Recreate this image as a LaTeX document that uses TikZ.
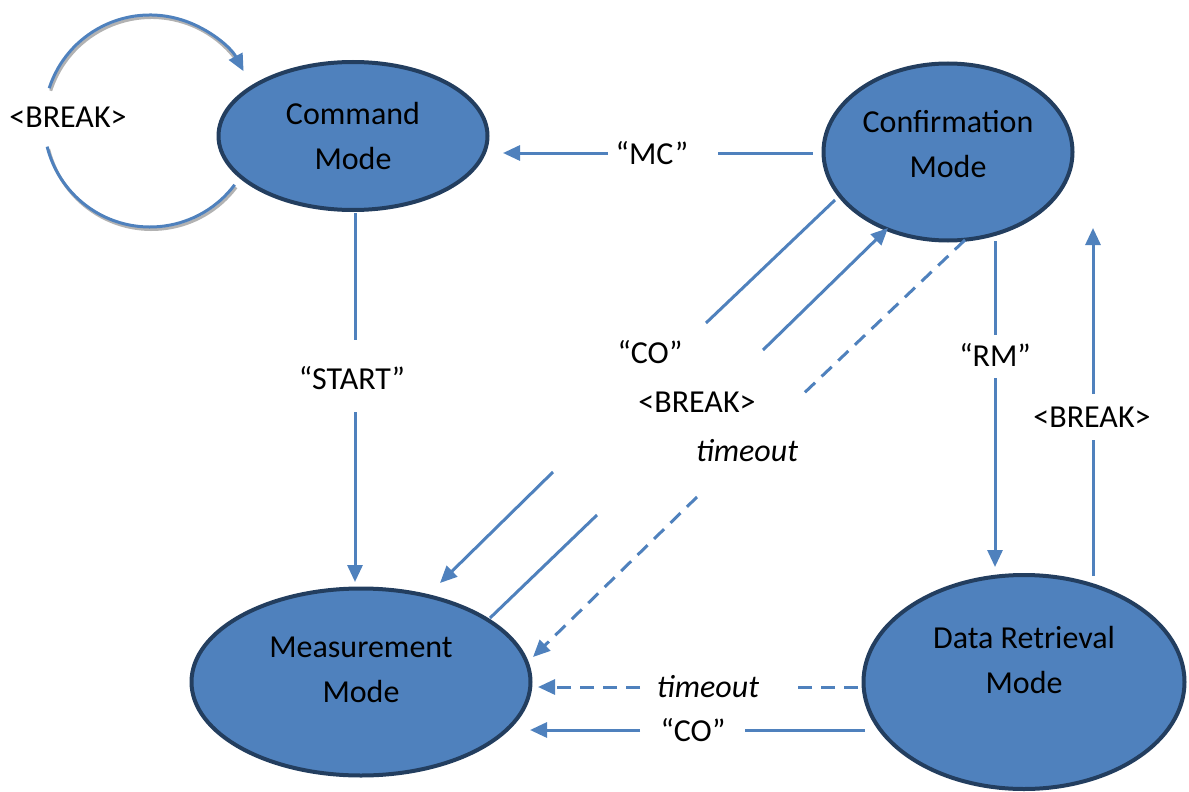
\documentclass[tikz,border=0pt]{standalone}
\usepackage{fontspec}
\setmainfont{Carlito}
\usetikzlibrary{shapes.geometric,arrows.meta}
\definecolor{lineblue}{HTML}{4F81BD}
\definecolor{fillblue}{HTML}{4F81BD}
\definecolor{edgeblue}{HTML}{233E5F}
\begin{document}
\begin{tikzpicture}[x=1pt,y=-1pt,
  state/.style={ellipse, draw=edgeblue, line width=4pt, fill=fillblue, inner sep=0pt},
  statetext/.style={align=center, font=\fontsize{32}{45}\selectfont, inner sep=0pt},
  lbl/.style={font=\fontsize{32}{38}\selectfont, inner sep=0pt},
  conn/.style={draw=lineblue, line width=3pt},
  arr/.style={conn, -{Triangle[length=17pt,width=15pt]}},
  dsh/.style={dash pattern=on 14pt off 9pt}]
\useasboundingbox (0,0) rectangle (1189,792);

% states
\node[state, minimum width=269pt, minimum height=148pt] (cmd) at (353,136) {};
\node[statetext] (cmdt) at (353,135.5) {Command\\Mode};
\node[state, minimum width=249pt, minimum height=177pt] (conf) at (948,152) {};
\node[statetext] (conft) at (948,144.5) {Confirmation\\Mode};
\node[state, minimum width=339pt, minimum height=187pt] (meas) at (361,682) {};
\node[statetext] (meast) at (361,669.5) {Measurement\\Mode};
\node[state, minimum width=321pt, minimum height=214pt] (dr) at (1024,682) {};
\node[statetext] (drt) at (1024,660) {Data Retrieval\\Mode};

% self loop on Command Mode
\coordinate (loopc) at (150,121);
\draw[gray!60, line width=3pt] ([shift={(1.5,2.5)}]loopc) ++(37:106) arc[start angle=37, end angle=166, radius=106];
\draw[gray!60, line width=3pt] ([shift={(1.5,2.5)}]loopc) ++(198:106) arc[start angle=198, end angle=325, radius=106];
\draw[conn] (loopc) ++(37:106) arc[start angle=37, end angle=166, radius=106];
\draw[arr] (loopc) ++(198:106) arc[start angle=198, end angle=332, radius=106];
\node[lbl] (lbreak0) at (68,117) {<BREAK>};

% "MC"
\coordinate (mc1) at (718,153);
\coordinate (mc2) at (608,153);
\draw[conn] ([xshift=-9pt]conf.west |- mc1) -- (mc1);
\draw[arr] (mc2) -- (503,153);
\node[lbl] (lmc) at (652,153) {“MC”};

% "START"
\coordinate (st1) at (355,340);
\coordinate (st2) at (355,412);
\draw[conn] (355,213) -- (st1);
\draw[arr] (st2) -- (355,582);
\node[lbl] (lstart) at (352,378) {“START”};

% "RM"
\coordinate (rm1) at (995,335);
\coordinate (rm2) at (995,378);
\draw[conn] (995,241) -- (rm1);
\draw[arr] (rm2) -- (995,567);
\node[lbl] (lrm) at (995,355) {“RM”};

% <BREAK> up
\coordinate (bu1) at (1093,440);
\coordinate (bu2) at (1093,394);
\draw[conn] (1093,576) -- (bu1);
\draw[arr] (bu2) -- (1093,228);
\node[lbl] (lbreak1) at (1092,417) {<BREAK>};

% diagonal "CO"
\coordinate (co1) at (835,200);
\coordinate (co2) at (706,323);
\coordinate (co3) at (553,472);
\draw[conn] (co1) -- (co2);
\draw[arr] (co3) -- (440,583);
\node[lbl] (lco1) at (650,352) {“CO”};

% diagonal <BREAK>
\coordinate (br1) at (490,618);
\coordinate (br2) at (597,515);
\coordinate (br3) at (763,350);
\draw[conn] (br1) -- (br2);
\draw[arr] (br3) -- (888,228);
\node[lbl] (lbreak2) at (697,402) {<BREAK>};

% diagonal timeout
\coordinate (to1) at (965,240);
\coordinate (to2) at (800,397);
\coordinate (to3) at (697,497);
\draw[conn, dsh] (to1) -- (to2);
\draw[arr, dsh] (to3) -- (533,657);
\node[lbl] (lto1) at (747,451) {\itshape timeout};

% horizontal timeout
\coordinate (ht1) at (798,687);
\coordinate (ht2) at (640,687);
\draw[conn, dsh] (858,687) -- (ht1);
\draw[arr, dsh] (ht2) -- (538,687);
\node[lbl] (lto2) at (708,687) {\itshape timeout};

% horizontal "CO"
\coordinate (hc1) at (745,730);
\coordinate (hc2) at (640,730);
\draw[conn] (865,730) -- (hc1);
\draw[arr] (hc2) -- (530,730);
\node[lbl] (lco2) at (693,730) {“CO”};
\end{tikzpicture}
\end{document}
